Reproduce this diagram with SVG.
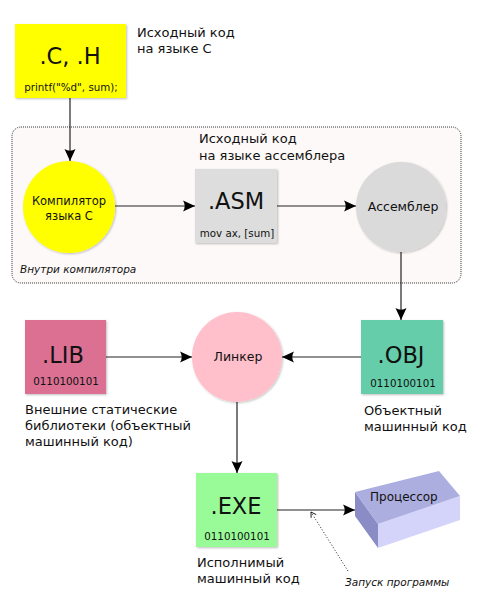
<svg xmlns="http://www.w3.org/2000/svg" width="486" height="607" viewBox="0 0 486 607">
<defs>
<style>
text{font-family:"DejaVu Sans","Liberation Sans",sans-serif;fill:#111}
.big{font-size:22.5px;text-anchor:middle}
.small{font-size:10.3px;text-anchor:middle}
.lbl{font-size:13px}
.cl{font-size:11.5px;text-anchor:middle}
.cl2{font-size:12.5px;text-anchor:middle}
.it{font-size:10.5px;font-style:italic}
.ln{stroke:#222;stroke-width:1.2;fill:none}
.sh{filter:url(#shadow)}
</style>
<filter id="shadow" x="-20%" y="-20%" width="140%" height="140%">
<feDropShadow dx="1" dy="1" stdDeviation="1" flood-color="#000" flood-opacity="0.25"/>
</filter>
<marker id="arr" markerUnits="userSpaceOnUse" markerWidth="14" markerHeight="12" viewBox="-13 -6 14 12" refX="0" refY="0" orient="auto">
<path d="M0,0 L-12,-5.5 Q-8.5,0 -12,5.5 Z" fill="#000"/>
</marker>
<marker id="arrs" markerUnits="userSpaceOnUse" markerWidth="8" markerHeight="8" viewBox="-7 -4 8 8" refX="0" refY="0" orient="auto">
<path d="M-5,-3 L0,0 L-5,3" fill="none" stroke="#000" stroke-width="0.8"/>
</marker>
</defs>
<rect width="486" height="607" fill="#fff"/>

<g id="compiler-area">
<rect x="12" y="127" width="449" height="156" rx="9" fill="#fdf9f8" stroke="#333" stroke-width="1" stroke-dasharray="1,1"/>
<text class="it" x="20" y="273">Внутри компилятора</text>
</g>

<g id="connectors">
<line class="ln" x1="70" y1="98" x2="70" y2="161" marker-end="url(#arr)"/>
<line class="ln" x1="115" y1="206" x2="195" y2="206" marker-end="url(#arr)"/>
<line class="ln" x1="277" y1="206" x2="356" y2="206" marker-end="url(#arr)"/>
<line class="ln" x1="401" y1="252" x2="401" y2="320" marker-end="url(#arr)"/>
<line class="ln" x1="106" y1="357" x2="192" y2="357" marker-end="url(#arr)"/>
<line class="ln" x1="361" y1="357" x2="282" y2="357" marker-end="url(#arr)"/>
<line class="ln" x1="237" y1="402" x2="237" y2="473" marker-end="url(#arr)"/>
<line class="ln" x1="277" y1="510" x2="355" y2="510" marker-end="url(#arr)"/>
<line x1="348" y1="571" x2="311" y2="512" stroke="#222" stroke-width="1" stroke-dasharray="1,2" marker-end="url(#arrs)"/>
</g>

<g id="c-source">
<rect class="sh" x="15" y="24" width="111" height="74" fill="#ffff00"/>
<text class="big" x="70" y="64">.C, .H</text>
<text class="small" x="71" y="91">printf("%d", sum);</text>
<text class="lbl" x="137" y="37">Исходный код</text>
<text class="lbl" x="137" y="53">на языке C</text>
</g>

<g id="c-compiler">
<circle class="sh" cx="69" cy="207" r="46" fill="#ffff00"/>
<text class="cl" x="69" y="205">Компилятор</text>
<text class="cl" x="69" y="220">языка C</text>
</g>

<g id="asm">
<rect class="sh" x="195" y="169" width="82" height="74" fill="#dddddd"/>
<text class="big" x="236" y="209">.ASM</text>
<text class="small" x="237" y="237">mov ax, [sum]</text>
<text class="lbl" x="199" y="143">Исходный код</text>
<text class="lbl" x="199" y="160">на языке ассемблера</text>
</g>

<g id="assembler">
<circle class="sh" cx="401" cy="207" r="45" fill="#dadada"/>
<text class="cl2" x="403" y="211">Ассемблер</text>
</g>

<g id="obj">
<rect class="sh" x="361" y="320" width="82" height="74" fill="#66cdaa"/>
<text class="big" x="401" y="363">.OBJ</text>
<text class="small" x="403" y="387">0110100101</text>
<text class="lbl" x="364" y="415">Объектный</text>
<text class="lbl" x="364" y="431">машинный код</text>
</g>

<g id="linker">
<circle class="sh" cx="237" cy="357" r="45" fill="#ffc0cb"/>
<text class="cl2" x="238" y="361">Линкер</text>
</g>

<g id="lib">
<rect class="sh" x="25" y="320" width="81" height="74" fill="#db7093"/>
<text class="big" x="63" y="363">.LIB</text>
<text class="small" x="66" y="385">0110100101</text>
<text class="lbl" x="25" y="414">Внешние статические</text>
<text class="lbl" x="25" y="430">библиотеки (объектный</text>
<text class="lbl" x="25" y="446">машинный код)</text>
</g>

<g id="exe">
<rect class="sh" x="196" y="473" width="81" height="74" fill="#98fb98"/>
<text class="big" x="236" y="514">.EXE</text>
<text class="small" x="237" y="540">0110100101</text>
<text class="lbl" x="197" y="567">Исполнимый</text>
<text class="lbl" x="197" y="583">машинный код</text>
</g>

<g id="launch-label">
<text class="it" x="345" y="586">Запуск программы</text>
</g>

<g id="processor">
<polygon points="355,492 378,524 378,548 355,516" fill="#8a8cc6"/>
<polygon points="378,524 460,496 460,520 378,548" fill="#d4d4fa"/>
<polygon points="355,492 439,471 460,496 378,524" fill="#acaee0"/>
<text x="370" y="501" style="font-size:12px">Процессор</text>
</g>
</svg>
